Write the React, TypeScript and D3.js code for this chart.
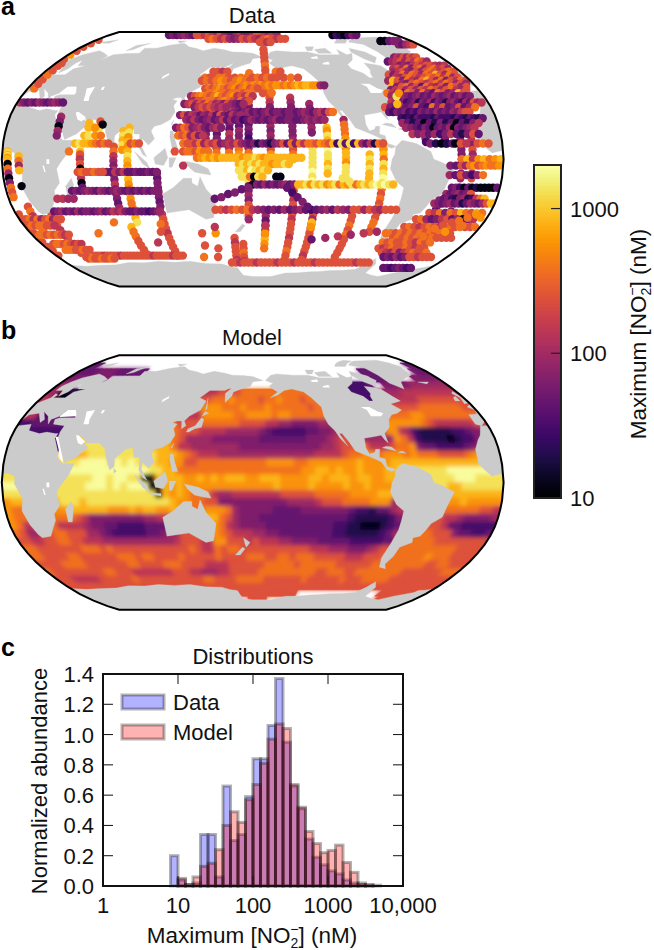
import React from "react";
import * as d3 from "d3";

// concentration classes (nM), one per character used in the lists below
const levelKeys = "0123456789abc";
const levelValues = [12, 20, 30, 45, 65, 95, 140, 240, 380, 560, 820, 1300, 1900];

// histogram, one value per 0.1 decade starting at 10^0.9
const histLogStart = [9, 10, 11, 12, 13, 14, 15, 16, 17, 18, 19, 20, 21, 22, 23, 24, 25, 26, 27, 28, 29, 30, 31, 32, 33, 34, 35, 36];
const dataHist = [0.2, 0.04, 0.01, 0.02, 0.34, 0.34, 0.06, 0.66, 0.3, 0.34, 0.59, 0.84, 0.84, 1.06, 1.37, 0.95, 0.66, 0.51, 0.31, 0.19, 0.14, 0.1, 0.08, 0.04, 0.02, 0.01, 0.005, 0];
const modelHist = [0, 0.05, 0.01, 0.06, 0.13, 0.15, 0.24, 0.4, 0.49, 0.42, 0.57, 0.67, 0.81, 0.97, 1.07, 1.04, 0.67, 0.52, 0.36, 0.28, 0.22, 0.235, 0.27, 0.155, 0.09, 0.02, 0.01, 0.005];
const yTicks = [0, 0.2, 0.4, 0.6, 0.8, 1.0, 1.2, 1.4];
const xTicks = [1, 10, 100, 1000, 10000];
const xTickLabels = ["1", "10", "100", "1000", "10,000"];
const barTicks = [10, 100, 1000];

// model field: 5 degree cells, rows from 90N down, columns from 0E eastward, groups of 30 degrees
const modelRows = [
  "...... ...... ...... ...... ...... ...... ...... ...... ...... ...... ...... ......",
  "...... ...... ...... ...... ...... ...... ...... ...... ...... ...... ...... ......",
  "33.... ...... ...... ...... ...... ...... ...... ...... ...... ...... ...... ....33",
  "333344 443333 33.... ...... ...... ...... ...... ...... ...... ....33 3..... ...433",
  "344444 44.... ...... ...... ...... ...... ...... ...... ...... .....3 33.... .44444",
  "555... ...... ...... ...... ...... ...... ...... ...... .....2 2223.. 444445 555555",
  "550011 ...... ...... ...... ....66 777788 888888 888888 ....22 22.... 556666 666666",
  "660000 ...... ...... ...... ...778 889888 878898 887888 8..... .....6 666677 777777",
  "66.... ...... ...... ...... ..8899 988898 889888 888788 8..... .....7 777888 888877",
  "662233 333... ...... ...... ..6699 999889 999899 888888 8..... ....88 899888 888888",
  "223333 33.... ...... ...... ..7788 888877 776655 444455 67.... ....99 998766 666677",
  "222222 22.... ...... ...... ..7766 665555 543222 223344 56.... ...965 211111 22344.",
  "...... ...... ...... .....9 875555 444444 433333 334445 677... 555986 211110 122456",
  "...... ...... bb.... bb...a 866555 555544 444444 444455 6778.. 667889 433222 23456.",
  "...... ....aa bbbcbb bb...a a98766 655555 555555 555666 678899 899989 888777 789999",
  "...... ...bbc cccbcb cbbbaa 997788 888888 889999 889999 999a99 99a..a aaaaaa aaabbb",
  "...... ....cc cccccc cccbba a88888 888888 888888 899aa9 a99a99 9a...b bbbbcc cccccb",
  "bb.... .....b bccbcc bb00aa aa99a9 a9aaa9 9aaa99 99aa9a aa9aa9 9a.... ..bbbc ccbbbb",
  "cc.... ...bbb cccbcb ccc00a 9a9999 999999 999a99 99a999 9a99a9 9..... ...baa bbbbbb",
  "bbb... ...bbb bbbbbb bbbb0a 9a9888 655666 666677 777888 889999 a..... ....aa aaaaaa",
  "9a.... ...bba bbbbbb bbbbbb a9988. 744444 444445 555677 788889 9..... .....9 a99999",
  "98.... .9..aa aaa999 a9aa9. ...... 998544 444333 344444 443221 3356.. ....88 888776",
  "988... ..8876 444444 44556. ...... a87544 433333 333333 332111 1124.. .....6 544445",
  "986... ...665 443322 22333. ...... 986544 443333 333333 221100 0123.. ...763 322222",
  "875... ...775 543222 223345 ...... 987666 554433 333333 221111 1235.. .....7 433223",
  "776677 887766 655555 555555 67.... .97776 766655 444433 333222 223... 888877 777777",
  "887777 777888 787777 777777 778766 878877 777777 777666 555444 567... 888888 887777",
  "887777 887777 778887 887777 877777 877778 887788 788877 777666 7778.. 888898 887777",
  "777788 887777 777887 777888 777766 667777 778888 878888 887777 7788.. 888887 788777",
  "877777 777788 777666 666677 766555 667777 788888 888887 788877 888888 887777 777888",
  "777666 667777 778777 777777 777887 777888 887777 777877 777787 778888 877777 777777",
  "777777 777777 777777 777777 777777 777777 777777 777777 777777 777777 777777 777777",
  "...... ...... ...... ...... ...... ...777 777777 777... ...... ...... ..7777 777...",
  "...... ...... ...... ...... ...... .....7 777... ...... ...... ...... ...777 ......",
  "...... ...... ...... ...... ...... ...... ...... ...... ...... ...... ...... ......",
  "...... ...... ...... ...... ...... ...... ...... ...... ...... ...... ...... ......",
];

// cruise sections. every token is the class character followed by the coordinate
const pacificRows: [number, string][] = [
  [56, "7146 7150 6154 7158 8200 7204"],
  [52, "8140 7144 7148 8152 8156 7160 7165 8170 8175 7180 8184 7188 8192 7196 7200 7206 8212 7218"],
  [50, "7138 8142 7146 8150 9154 8158 7162 8166 9170 8174 7178"],
  [47, "8163 8166 9169 8172 9175 8178 9181 8184 9187 8190 9193 8196 9199 9202 8205 9208 8211 9214 a217 9220 a223 a226 9229 9232 5235 4238"],
  [45, "7142 8145 7148 8151 9154 8157 7160 8163 9166 7169 8172 9175 7178 8181 7184"],
  [42, "7143 8146 8149 9152 8155 8158 7161 8164 8167 8170 7173 8176 8179 7188 8195"],
  [40, "5132 7135 8138 9141 8144 7147 8150 a153 8156 7159 8162 9165 6168 7171 6174 8177 6180"],
  [37, "5135 7138 7141 8144 8147 8150 7153 8156 9159 8162 7165 6168 8171 6174 7177"],
  [35, "4128 6131 7134 5137 7140 6143 8146 7149 5152 6155 4158 7161 5164 4167 3170 5173"],
  [33, "4136 6139 7142 6145 7148 6151 5154 6157 5160"],
  [30, "5165 4168 3171 4174 5177 3180 4183 3186 4189 5192 3195 4198 4201 3204 4207 4210 3213 4216 5219 4222 3225 5228 6231 4234 7237 8240"],
  [28, "4126 7129 4132 6135 5138 3141 5144 4147 6150 3153 7156 4159 3162 6165 4168 5171"],
  [25, "5131 4134 6137 4140 3143 4146 5149 3152 4155 6158 3161 5164 3167 4170 2173 3176 5179 4182 3185 4188 3191 4194 5197 3200 3203 4206 4209 3212 3215 4218 5221 4224 5227 4230 5233"],
  [20, "4124 6127 8130 7133 4136 5139 6142 4145 3148 5151 6154 4157"],
  [15, "8126 7129 8132 5135 7138 4141 6144"],
  [10, "8130 7133 7136 6139 8142 5145 7148 6151 7154 4157 5160 6163 5166 7169 5172 4175 3178 4181 1184 4187 3190 1193 4196 5199 7202 3205 8208 4211 8214 6217 8220 8223 7226 9229 8232 7235 a238 2241 b244 3247 b250 2253 a256 5259 3262 6265 1268 8271 7274"],
  [5, "7130 8133 8136 7139 9142 8145 8148"],
  [1, "8140 9143 a146 9149 a152 9155 a158 a161 a164 a167 a170 9173 a176 a179 b182 a185 9188 a191 a194 a197 a200 a203 a206 a209 a212 a215"],
  [-3, "a170 b173 a176 b179 a182 b185 a188 a191 9194 a197 a200 b203 a206"],
  [-7, "b170 b173 a176 c179 b182 a185 b188 a191"],
  [-11, "b172 b175 8178 0181 b184 a187 0197 0200"],
  [-16, "0180 4183 3186 5189 3192 4195 3198 4201 5204 3207 4210 a213 a216 b219 9222 b225 a228 b231 9234 a237 b240 8243 a246 9249 b252 8255 a258 b261 a264 b267 c270 b273 c276 b279 a282"],
  [-32, "7152 7156 6160 7164 8168 7172 8176 6180 5184 4188 3192 4196 3200 5204 3208 4212 5216 3220 2224 3228 4232 5236 3240 6244 5248 4252 7256 7260 5264 7268 6272 5276 7280 7284 7288"],
  [-67, "7160 7164 6168 7172 7176 7180 6184 7188 7192 7196 7200 6204 7208 7212 7216 6220 7224 7228 7232 7236 6240 7244 7248 7252 7256 7260 7264 7268 7272 7276 6280 7284 7288 7292"],
];
const pacificCols: [number, string][] = [
  [135, "528 425 322 419 516 613 410 707"],
  [146, "328 425 322 619 416 513 710 707 804"],
  [154, "428 325 422 519 316 413 510 707 804 901"],
  [163, "328 525 422 319 616 513 410 607 804"],
  [165, "7-50 6-53 7-56 7-59 7-62 6-65"],
  [172, "7-54 7-57 8-60 7-63 6-66"],
  [170, "427 424 321 518 415 412 709 806 903"],
  [177, "855 852 849 846 743 840 637 434 331 228 325 322 419 316 213 310 507 804 a1 a-2 9-5 a-8 0-11 b-14 3-17 4-20 5-23 4-26 7-29 6-32 7-35 5-38"],
  [190, "4-33 5-36 3-39 4-42 6-45 8-48 a-51 9-54 8-57"],
  [191, "772 769 766 763 860 757 754 651"],
  [193, "948 845 842 739 636 433 330 427 324 521 418 515 412 309 706 93 a0"],
  [209, "639 536 433 330 427 324 421 418 415 512 309 706 83 a0"],
  [210, "7-20 7-23 6-26 7-29 7-35 6-38 7-41 7-44 7-47 6-50 7-53 7-56 8-59 7-62 7-65"],
  [223, "535 432 229 426 323 520 417 a10 b7 b4 b1 b-2 b-5 c-8 b-11 c-14"],
  [226, "7-35 5-38 6-41 7-44 7-47 7-50 7-53 7-56 7-59 6-62 7-65"],
  [234, "a20 918 b15 a12 b9 c6 b3 b0 a-3 b-6 a-9"],
  [247, "525 822 819 816 913 a10 97 a4 a1 9-2 b-5 b-8 b-11"],
  [256, "7-36 7-39 8-42 7-45 8-48 7-51 7-54 7-57 7-60 7-63"],
  [264, "a3 b0 a-3 b-6 a-9 a-12"],
  [274, "810 a7 96 a3 80 b-3 a-6 b-9 c-12 b-15 8-19 7-22 8-25 7-28 8-31 7-34 7-37 8-40 8-43 7-46"],
];
const indianRows: [number, string][] = [
  [36, "62 45 38 411 314 517 420 323 426 529 432 335"],
  [20, "a60 a64 b68"],
  [15, "a58 b61 966 870"],
  [10, "a52 b55 a58 a61 964 867 770 873 776 792 895 798"],
  [-8, "754 857 760 763 866 769 672 475 378 681 484 687 390 393 496 399 3102 4105 3108 4111"],
  [-20, "348 451 354 457 560 463 366 569 472 375 478 581 484 387 490 393 496 399 4102 3105 4108 4111"],
  [-25, "636 640 544 548"],
  [-33, "330 433 536 339 442 345 548 351 454 457 360 463 566 369 472 675 578 681 484 387 390 493 396 399 2102 3105 4108 5110"],
  [-38, "75 88 611 814 517 720 823 526 729 732"],
  [-42, "73 86 79 812 815 718 721 624"],
  [-48, "73 86 89 712 815 718 821 724 627 730"],
  [-54, "710 813 816 719 822 725 628 731 634"],
  [-58, "815 818 821 724 727 830 733 736"],
  [-62, "735 738 741 644 747 750 753 756 659 762 765 768 771 774 777 780 783 786 689 792 795 798 7101 7104 6107 7110 7113 7116"],
  [-64, "727 830 733 736 839 742 745 848 751"],
];
const indianCols: [number, string][] = [
  [2, "765 968 771 774 777 780 7-35 7-38 6-41 7-44 7-47 7-50 7-53 7-56 7-59 7-62"],
  [5, "845 748 751 854 757 760 762"],
  [12, "a2 8-1 5-4 a-7 0-17 7-30 8-33 6-36 7-39 5-42 8-45"],
  [38, "527 424 021 518 415"],
  [26, "7-36 7-39 7-42 6-45 7-48 7-51 7-54 7-57 7-60 7-63"],
  [56, "a5 82 73 60 7-3 0-6 5-9 6-12 0-15 3-18"],
  [80, "78 85 62 5-1 4-4 6-7 5-10 4-13 6-16 4-19 5-22 4-25 3-28 5-31"],
  [86, "a18 b15 a12 b9 96"],
  [90, "a20 b17 914 a11 98 a5 b2 a-1 9-4 a-7 b-10 a-13 9-16 8-19 a-22 9-25 8-28 8-31 a-34 a-37 b-40"],
  [84, "a-43 8-46 8-49 7-52 7-55 7-58 7-61"],
  [111, "4-9 3-12 4-15 4-18 5-21 4-24 3-27 4-30 6-35 7-38 7-41 7-44 6-47 7-50 7-53 7-56 7-59 6-62"],
];
const atlanticRows: [number, string][] = [
  [79, "0325 0330 3335 4340 4345"],
  [76, "4338 3342 5346 6350 7354"],
  [66, "4315 6318 5321 7324 5327 7330 6333 7336"],
  [63, "3305 5309 6313 7317 5321 7325 6329 8333 7337 5341"],
  [60, "4312 5316 4320 6324 7328 6332 7336 7340 6344 5348 6352"],
  [58, "6304 7308 5312 8316 4320 7324 8328 5332 7336 8340 6344 7348 5352"],
  [56, "5302 6306 7310 5314 4318 7322 5326 7330 8334 7338 6342 7346 8350 7354"],
  [54, "7296 4300 6304 8308 5312 8316 7320 5324 8328 7332 a336 7340 5344 8348 7352"],
  [52, "6300 5304 7308 8312 7316 6320 7324 8328 7332 8336 6340 8344 5348 7352"],
  [50, "5292 a296 7300 4304 8308 6312 5316 8320 a324 7328 5332 8336 4340 7344 6348 8352 7356"],
  [48, "7298 5302 4306 7310 8314 7318 6322 7326 8330 6334 8338 7342 5346 7350 5354"],
  [46, "a292 4296 7300 8304 5308 7312 3316 8320 6324 5328 7332 4336 8340 7344 5348 7352"],
  [44, "4290 6294 7298 5302 7306 5310 7314 6318 8322 7326 5330 7334 8338 6342 5346 7350"],
  [42, "8286 6290 4294 3298 8302 7306 4310 8314 5318 3322 8326 7330 4334 5338 a342 7346"],
  [40, "5288 3292 4295 5298 4301 3304 4307 5310 3313 4316 3319 5322 4325 3328 4331 5334 3337 4340 5343 3346 4349"],
  [36, "6286 5289 3292 4295 2298 3301 4304 1307 4310 3313 5316 2319 4322 3325 1328 4331 5334 3337 2340 5343 3346 7349 5352 6355"],
  [33, "7280 4284 3288 6292 3296 4300 7304 3308 2312 8316 4320 7324 3328 4332 7336 3340 5344 8348"],
  [30, "3282 2285 4288 3291 4294 2297 3300 2303 4306 3309 4312 3315 5318 3321 4324 3327 5330 4333 6336 7339 7342"],
  [26, "2290 1293 2296 1299 3302 2305 2308 2311 1314 3317 2320 2323 2326 1329 3332 2335 1338 3341 2344 1347 3350"],
  [23, "5290 3294 1298 3302 0306 3310 1314 4318 1322 3326 0330 3334 1338 4342 6346"],
  [20, "5292 4296 3300 2303 4306 3309 0312 3315 4318 3321 5324 0327 4330 3333 4336 5339 6342"],
  [16, "6296 4300 5304 3308 5312 2316 4320 6324 3328 1332 4336 7340 3344"],
  [10, "4308 1312 0316 1320 3324 0326 7330 6334 7342 8346 7350"],
  [0, "8330 a334 6338 9342 a346 8350 9354 a358"],
  [-4, "4322 3326 7330 5333 8336 9339 7342 8345 9348 8351 8354 9357"],
  [-10, "5322 3326 7330 4334 2338 5342 8346"],
  [-18, "3325 4328 2331 0334 3337 0340 1343 0346 0349 0352 0355 3358"],
  [-22, "5322 3325 4328 5331 3334 4337 7340"],
  [-25, "3321 4324 2327 1330 4333 5336 1339 2342 6345 8348 a351"],
  [-28, "5315 4318 3321 4324 5327 3330 4333 1336 3339 5342 4345 3348 5351 7354 a357 a360"],
  [-34, "7314 6318 8322 4326 8330 7334 a338 8342 7346 a350 8354"],
  [-38, "7306 8310 5314 3318 4322 6326 7330 3334 5338 0342 4346 6350"],
  [-43, "7300 8304 7308 6312 7316 8320 7324 6328 7332 8336 7340 8344 7348 7352 8356"],
  [-47, "8288 8292 7296 8300 7304 8308 7312 8316 7320 8324 7328 8332 9336 7340"],
  [-50, "7296 8300 7304 8308 7312 8316 7320 7324 8328 7332 7336 7340 7344"],
  [-53, "8290 7294 8298 7302 7306 8310 7314 6318 8322 7326 8330"],
  [-57, "7290 6294 7298 8302 7306 7310 8314 7318 6322 7326 7330"],
  [-60, "7296 6300 5304 7308 4312 6316 7320 8324 7328 7332 8336"],
  [-63, "3301 4305 3309 5313 3317 4321 7325 7329 6333 7337 7341 7345"],
  [-71, "3312 3316 2320 3324 4328 3332 2336 3340"],
];
const atlanticCols: [number, string][] = [
  [305, "325 322 119 316 413 211"],
  [319, "425 222 319 116 413 310"],
  [330, "415 412 59 46 43 30 3-3 4-9 5-12 4-18 3-21 4-24 1-27 3-33"],
  [338, "418 515 612 49 76 53 70 6-3 5-9 7-12 4-18 3-21 4-24"],
  [318, "4-26 5-29 3-32 5-35 4-38 7-41 7-46 7-49 8-52 7-55"],
  [4, "a5 b4 a3 b2 91 a0 0-3 8-6 5-9 0-12 4-15 8-18 7-21 8-24"],
];
const arcticRows: [number, string][] = [
  [85, "375 480 385 490 595 4100 3105 7110 7115 6120 7125 6130 5135 7140 5145 4150 3155 5160 6165 4170 4175 5180 7185 7190 6195 5200 6205 5210 0280 2285 1290 0295 2300 4305 3310"],
  [81, "7128 8133 7138 6143 7148 5153 4158 5163 7168 6173 7178 6183 5188 7193 8198 7203 6208 7213 7218"],
  [78, "7188 7192 6196 7200"],
];
const lonelyStations = [
  "855,-47", "872,-40", "8108,-41", "6100,-53", "7106,-46", "7139,-47", "9150,-47", "6150,-43", "7139,-55", "7150,-57", "8135,-63", "7148,-63",
  "9190,-47", "6190,-42", "a226,-40", "9226,-43", "848,5", "772,-8", "7124,5", "6130,-4", "3152,-25", "4157,-24", "3162,-22", "4167,-21", "3172,-19", "4177,-18",
  "3205,-18", "2209,-21", "3213,-24", "4217,-27", "3221,-30", "3229,-51", "5240,-50", "6250,-49", "5260,-48", "6270,-47", "5280,-46", "b245,-12", "b250,-14",
  "a60,23", "965,20", "768,24", "070,22", "a290,35", "b292,40", "9295,42",
  "8345,-37", "9350,-35", "7335,-40", "8340,-39", "8325,-44", "7330,-42", "8320,-49", "9335,-46", "8345,-42", "9355,-37",
];

// coast outlines in lon/lat, read by eye
const landRings: [number, number][][] = [
  // Africa
  [[-17,15],[-17,21],[-13,27],[-10,30],[-6,36],[0,36],[10,37],[11,33],[20,31],[25,32],[32,31],[34,31],[33,28],[37,21],[39,15],[43,12],[51,12],[48,5],[42,-2],[39,-6],[40,-15],[35,-20],[35,-24],[32,-28],[27,-34],[20,-35],[18,-33],[15,-27],[12,-18],[14,-10],[9,-1],[9,4],[4,6],[-4,5],[-8,4],[-13,8],[-17,12]],
  // Eurasia
  [[-9,37],[-9,43],[-2,43.5],[-1,46],[-5,48],[2,51],[8,54],[8,57],[11,56],[10,54],[20,54],[22,58],[30,60],[23,60],[21,64],[24,66],[18,62],[17,58],[13,55],[11,59],[5,59],[5,62],[14,68],[25,71],[40,67],[37,64],[44,68],[68,69],[68,73],[80,73],[105,77],[113,74],[130,71],[140,73],[160,70],[180,69],[190,66],[180,65],[178,62],[170,60],[163,58],[162,55],[157,51],[156,57],[163,62],[155,59],[142,59],[135,54],[141,52],[138,46],[130,42],[127,39],[129,36],[126,34],[125,39],[121,39],[118,38],[122,37],[120,34],[122,30],[119,25],[113,22],[108,21],[106,18],[109,13],[105,9],[100,13],[100,8],[104,1.5],[101,3],[98,8],[98,16],[94,16],[92,22],[87,21],[80,15],[80,10],[77,8],[73,17],[72,21],[67,25],[57,25],[56,27],[50,30],[48,29],[51,25],[56,25],[59,22],[52,16],[44,12.5],[39,21],[35,28],[35,32],[36,36],[27,37],[26,40],[29,41],[41,41],[38,46],[31,46],[28,42],[23,40],[23,37],[19,42],[13,45],[18,40],[16,38],[10,44],[3,43],[0,39],[-5,36]],
  // North America
  [[-168,66],[-162,70],[-156,71],[-140,70],[-125,70],[-115,68],[-108,68],[-95,68],[-94,72],[-88,68],[-82,69],[-85,66],[-87,64],[-94,61],[-93,58],[-85,55],[-82,52],[-79,52],[-79,55],[-77,57],[-78,62],[-70,61],[-65,60],[-60,55],[-56,52],[-66,50],[-60,46],[-65,44],[-70,43],[-74,40],[-76,35],[-81,31],[-80,25],[-82,27],[-84,30],[-90,29],[-97,28],[-97,22],[-95,18],[-91,19],[-90,21],[-87,21],[-88,16],[-84,15],[-83,10],[-79,9],[-77,8],[-80,7],[-83,8],[-87,13],[-94,16],[-105,20],[-109,26],[-113,31],[-115,31],[-110,23],[-115,28],[-118,33],[-122,37],[-124,42],[-124,48],[-130,54],[-135,58],[-145,60],[-152,59],[-158,56],[-165,54],[-158,58],[-162,60],[-165,62],[-161,64]],
  // South America
  [[-77,8],[-72,12],[-62,10],[-52,5],[-50,0],[-44,-2],[-35,-6],[-39,-15],[-41,-22],[-48,-26],[-53,-34],[-58,-35],[-57,-38],[-65,-41],[-66,-47],[-69,-52],[-66,-55],[-72,-54],[-75,-48],[-73,-38],[-71,-30],[-70,-18],[-76,-14],[-81,-6],[-80,0],[-78,3]],
  // Greenland
  [[-73,78],[-60,82],[-30,83],[-18,77],[-22,70],[-40,65],[-44,60],[-52,64],[-55,70],[-60,76]],
  // Australia and the islands
  [[114,-22],[122,-18],[130,-12],[136,-12],[136,-15],[140,-17],[142,-11],[146,-19],[153,-26],[150,-37],[144,-38],[138,-35],[132,-32],[124,-33],[115,-34]],
  [[173,-35],[178,-38],[175,-41],[174,-39]],
  [[172,-41],[174,-42],[170,-46],[166,-46]],
  [[131,-1],[141,-3],[148,-6],[150,-10],[143,-9],[138,-8],[133,-4]],
  [[109,1],[117,7],[119,1],[116,-4],[110,-3]],
  [[95,5],[104,-2],[106,-6],[101,-3]],
  [[105,-6.5],[114,-7],[114,-8.5],[106,-7.5]],
  [[120,1],[125,1],[122,-5],[120,-5]],
  [[120,18],[122,18],[124,12],[126,7],[122,7],[120,14]],
  [[130,32],[131,34],[136,36],[140,41],[142,40],[141,35],[136,34],[132,32]],
  [[140,42],[145,44],[142,45]],
  [[142,54],[143,47],[142,46]],
  [[120,22],[122,25],[121,22]],
  [[80,9],[82,7],[80,6]],
  [[49,-12],[50,-16],[47,-25],[44,-25],[44,-17]],
  [[-5,50],[1,51],[-2,56],[-3,58.5],[-6,57],[-3,54]],
  [[-10,52],[-6,52],[-6,55],[-9,54]],
  [[-24,65],[-14,65],[-18,63.5]],
  [[-85,22],[-75,20],[-78,22.5],[-82,23]],
  [[-74,19],[-68,18.5],[-71,20]],
  // Arctic islands
  [[-80,73],[-68,70],[-62,66],[-68,62],[-75,65],[-82,70]],
  [[-117,72],[-105,73],[-102,69],[-115,69]],
  [[-90,77],[-70,83],[-62,82],[-78,77]],
  [[-125,74],[-116,74],[-120,71],[-125,71]],
  [[52,71],[56,75],[68,77],[58,72]],
  [[12,78],[25,80],[22,77],[15,77]],
  [[95,79],[105,79],[100,77]],
  // Antarctica
  [[0,-69],[30,-69],[60,-67],[90,-66],[120,-66],[150,-68],[165,-71],[170,-77],[180,-78],[200,-78],[215,-75],[240,-74],[260,-73],[285,-72],[295,-64],[300,-68],[300,-75],[320,-78],[330,-75],[345,-72],[360,-69]],
];
const lakeRings: [number, number][][] = [
  [[47,45],[53,46],[53,40],[54,37],[50,37],[49,41]],
  [[-92,48],[-85,48],[-80,45],[-76,44],[-79,42],[-84,42],[-87,42],[-88,46]],
  [[59,46],[61,46],[61,44],[59,44]],
  [[32,0],[34,0],[34,-3],[32,-3]],
  [[29,-4],[30,-4],[31,-8],[30,-8]],
  [[104,53],[108,55],[109,54],[104,51]],
  [[-125,66],[-118,67],[-118,65],[-124,65]],
  [[-116,62],[-110,63],[-110,61],[-116,61]],
  // Red Sea, Persian Gulf, Black Sea
  [[33,29],[38,21],[40,15],[43,12.5],[42,16],[39,22],[35,29]],
  [[48,30],[50,30],[56,26],[54,24],[51,25]],
  [[28,42],[31,46],[38,46],[41,42],[29,41.5]],
];

// Robinson table
const robLat = [0, 5, 10, 15, 20, 25, 30, 35, 40, 45, 50, 55, 60, 65, 70, 75, 80, 85, 90];
const robLen = [1, 0.9986, 0.9954, 0.99, 0.9822, 0.973, 0.96, 0.9427, 0.9216, 0.8962, 0.8679, 0.835, 0.7986, 0.7597, 0.7186, 0.6732, 0.6213, 0.5722, 0.5322];
const robDfe = [0, 0.062, 0.124, 0.186, 0.248, 0.31, 0.372, 0.434, 0.4958, 0.5571, 0.6176, 0.6769, 0.7346, 0.7903, 0.8435, 0.8936, 0.9394, 0.9761, 1];
const lenScale = d3.scaleLinear().domain(robLat).range(robLen).clamp(true);
const dfeScale = d3.scaleLinear().domain(robLat).range(robDfe).clamp(true);
const robinsonRaw = (lambda: number, phi: number): [number, number] => {
  const deg = (Math.abs(phi) * 180) / Math.PI;
  return [0.8487 * lenScale(deg) * lambda, 1.3523 * dfeScale(deg) * (phi < 0 ? -1 : 1)];
};
const mapProjection = (cx: number, cy: number) =>
  d3.geoProjection(robinsonRaw as any).scale(94.1).rotate([-180, 0]).translate([cx, cy]).precision(0.3);

const colorLog = d3.scaleLog().domain([10, 2000]).range([0, 1]);
const inferno = (v: number) => d3.interpolateInferno(colorLog(v));
const levelColor = (c: string) => inferno(levelValues[levelKeys.indexOf(c)]);

const rowDots = (rows: [number, string][]) =>
  rows.flatMap(([lat, s]) => s.split(" ").map((t) => ({ lon: +t.slice(1), lat, c: t[0] })));
const colDots = (cols: [number, string][]) =>
  cols.flatMap(([lon, s]) => s.split(" ").map((t) => ({ lon, lat: +t.slice(1), c: t[0] })));
const stationDots = lonelyStations.map((t) => {
  const [a, b] = t.slice(1).split(",");
  return { lon: +a, lat: +b, c: t[0] };
});
const allDots = [
  ...rowDots(arcticRows),
  ...colDots(atlanticCols),
  ...rowDots(atlanticRows),
  ...colDots(indianCols),
  ...rowDots(indianRows),
  ...colDots(pacificCols),
  ...rowDots(pacificRows),
  ...stationDots,
];

const ringFeature = (ring: [number, number][]) => {
  const closed = [...ring, ring[0]];
  const f: any = { type: "Polygon", coordinates: [closed] };
  if (d3.geoArea(f) > 2 * Math.PI) f.coordinates = [closed.slice().reverse()];
  return f;
};
const landFeatures = landRings.map(ringFeature);
const lakeFeatures = lakeRings.map(ringFeature);

// cells under the land get the value of a sea neighbour, so the coast has no white seam
const modelGrid = modelRows.map((row) => Array.from(row.replace(/ /g, "")));
d3.range(2).forEach(() => {
  const prev = modelGrid.map((r) => r.slice());
  prev.forEach((row, i) => {
    if (i < 6 || i > 31) return;
    row.forEach((c, j) => {
      if (c !== ".") return;
      const near = [prev[i][(j + 1) % 72], prev[i][(j + 71) % 72], prev[i - 1][j], prev[i + 1][j]].find((n) => n !== ".");
      if (near) modelGrid[i][j] = near;
    });
  });
});
const modelCells = modelGrid.flatMap((chars, i) => {
  const north = 90 - i * 5;
  return chars.flatMap((c, j) => {
    if (c === ".") return [];
    const w = j * 5 + 0.001;
    const e = j * 5 + 4.999;
    const s = north - 5;
    const geom = {
      type: "Polygon",
      coordinates: [[[w, s], [w, north], [e, north], [e, s], [w, s]]],
    };
    return [{ c, geom }];
  });
});

const FONT = "'Liberation Sans', Arial, sans-serif";

function NO2Label({ x, y, rotate }: { x: number; y: number; rotate?: number }) {
  return (
    <text
      transform={`translate(${x},${y})${rotate ? ` rotate(${rotate})` : ""}`}
      textAnchor="middle"
      fontSize={22.5}
      fill="#111"
    >
      Maximum [NO
      <tspan dy={5} fontSize={14}>2</tspan>
      <tspan dx={-8} dy={-14} fontSize={14}>−</tspan>
      <tspan dy={9}>] (nM)</tspan>
    </text>
  );
}

function LandLayer({ path }: { path: any }) {
  return (
    <g>
      {landFeatures.map((f, i) => (
        <path key={i} d={path(f)} fill="#cbcbcb" stroke="#cbcbcb" strokeWidth={0.3} />
      ))}
      {lakeFeatures.map((f, i) => (
        <path key={i} d={path(f)} fill="#fff" />
      ))}
    </g>
  );
}

function DataMap() {
  const proj = mapProjection(252.7, 159.3);
  const path = d3.geoPath(proj);
  const sphere = path({ type: "Sphere" } as any);
  return (
    <g>
      <clipPath id="clipData"><path d={sphere} /></clipPath>
      <g clipPath="url(#clipData)">
        <path d={sphere} fill="#fff" />
        <LandLayer path={path} />
        {allDots.map((d, i) => {
          const p = proj([d.lon, d.lat])!;
          return <circle key={i} cx={p[0]} cy={p[1]} r={4.2} fill={levelColor(d.c)} />;
        })}
      </g>
      <path d={sphere} fill="none" stroke="#000" strokeWidth={2} />
    </g>
  );
}

function ModelMap() {
  const proj = mapProjection(252.7, 482.5);
  const path = d3.geoPath(proj);
  const sphere = path({ type: "Sphere" } as any);
  const cells = modelCells.map((cell, i) => (
    <path key={i} d={path(cell.geom as any)} fill={levelColor(cell.c)} stroke={levelColor(cell.c)} strokeWidth={0.6} />
  ));
  return (
    <g>
      <clipPath id="clipModel"><path d={sphere} /></clipPath>
      <filter id="soften" filterUnits="userSpaceOnUse" x={-10} y={340} width={530} height={290}>
        <feGaussianBlur stdDeviation={2.1} />
      </filter>
      <g clipPath="url(#clipModel)">
        <path d={sphere} fill="#fff" />
        <g>{cells}</g>
        <g filter="url(#soften)">{cells}</g>
        <LandLayer path={path} />
      </g>
      <path d={sphere} fill="none" stroke="#000" strokeWidth={2} />
    </g>
  );
}

function ColorBar() {
  const y = d3.scaleLog().domain([10, 2000]).range([498, 165]);
  const steps = d3.range(0, 333);
  return (
    <g>
      {steps.map((k) => (
        <rect key={k} x={534} width={27} y={165 + k} height={1.5} fill={inferno(y.invert(165 + k + 0.5))} />
      ))}
      <rect x={534} y={165} width={27} height={333} fill="none" stroke="#222" strokeWidth={2} />
      {barTicks.map((t) => (
        <g key={t}>
          <line x1={551} x2={561} y1={y(t)} y2={y(t)} stroke="#222" strokeWidth={1.2} />
          <text x={570} y={y(t) + 8} fontSize={22} fill="#111">{t}</text>
        </g>
      ))}
      <NO2Label x={646} y={334} rotate={-90} />
    </g>
  );
}

function Histogram() {
  const x = d3.scaleLog().domain([1, 10000]).range([103, 403]);
  const y = d3.scaleLinear().domain([0, 1.4]).range([886, 674]);
  const bars = (vals: number[], fill: string) =>
    histLogStart.map((k, i) => {
      if (!vals[i]) return null;
      const x0 = x(10 ** (k / 10));
      const x1 = x(10 ** ((k + 1) / 10));
      return (
        <rect key={k} x={x0} y={y(vals[i])} width={x1 - x0} height={y(0) - y(vals[i])}
          fill={fill} fillOpacity={0.3} stroke="#000" strokeOpacity={0.3} strokeWidth={3} />
      );
    });
  return (
    <g>
      {bars(dataHist, "#0000ff")}
      {bars(modelHist, "#ff0000")}
      <rect x={103} y={674} width={300} height={212} fill="none" stroke="#111" strokeWidth={2} />
      {yTicks.map((t) => (
        <g key={t}>
          <line x1={103} x2={113} y1={y(t)} y2={y(t)} stroke="#111" />
          <line x1={393} x2={403} y1={y(t)} y2={y(t)} stroke="#111" />
          <text x={94} y={y(t) + 8} fontSize={22} textAnchor="end" fill="#111">{t.toFixed(1)}</text>
        </g>
      ))}
      {xTicks.map((t, i) => (
        <g key={t}>
          <line x1={x(t)} x2={x(t)} y1={876} y2={886} stroke="#111" />
          <line x1={x(t)} x2={x(t)} y1={674} y2={684} stroke="#111" />
          <text x={x(t)} y={913} fontSize={22} textAnchor="middle" fill="#111">{xTickLabels[i]}</text>
        </g>
      ))}
      <rect x={122} y={695} width={42} height={14} fill="#0000ff" fillOpacity={0.3} stroke="#000" strokeOpacity={0.3} strokeWidth={3} />
      <text x={173} y={710} fontSize={22} fill="#111">Data</text>
      <rect x={122} y={725} width={42} height={14} fill="#ff0000" fillOpacity={0.3} stroke="#000" strokeOpacity={0.3} strokeWidth={3} />
      <text x={173} y={740} fontSize={22} fill="#111">Model</text>
      <text x={253} y={664} fontSize={22} textAnchor="middle" fill="#111">Distributions</text>
      <text transform="translate(47,781) rotate(-90)" fontSize={22} textAnchor="middle" fill="#111">Normalized abundance</text>
      <NO2Label x={252} y={943} />
    </g>
  );
}

export default function App() {
  return (
    <svg width={654} height={950} style={{ position: "absolute", left: 0, top: 0, fontFamily: FONT }}>
      <rect width={654} height={950} fill="#fff" />
      <DataMap />
      <ModelMap />
      <ColorBar />
      <Histogram />
      <text x={252} y={23} fontSize={22} textAnchor="middle" fill="#111">Data</text>
      <text x={252} y={345} fontSize={22} textAnchor="middle" fill="#111">Model</text>
      <text x={1} y={15} fontSize={25} fontWeight="bold" fill="#000">a</text>
      <text x={1} y={339} fontSize={25} fontWeight="bold" fill="#000">b</text>
      <text x={1} y={656} fontSize={25} fontWeight="bold" fill="#000">c</text>
    </svg>
  );
}
